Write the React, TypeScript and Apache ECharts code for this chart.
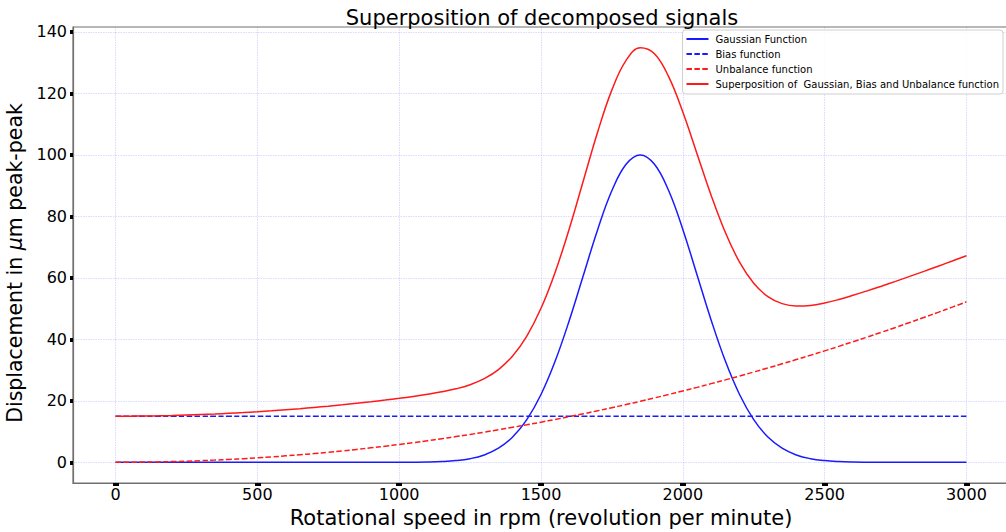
import React, { useEffect, useRef } from "react";
import * as echarts from "echarts";

// rpm sample positions
const rpm = [
  0, 50, 100, 150, 200, 250, 300, 350, 400, 450, 500, 550, 600, 650, 700, 750, 800, 850, 900, 950,
  1000, 1050, 1100, 1150, 1200, 1250, 1300, 1350, 1400, 1450, 1500, 1550, 1600, 1650, 1700, 1750,
  1800, 1850, 1900, 1950, 2000, 2050, 2100, 2150, 2200, 2250, 2300, 2350, 2400, 2450, 2500, 2550,
  2600, 2650, 2700, 2750, 2800, 2850, 2900, 2950, 3000,
];

// Gaussian function (µm)
const gaussian = [
  0, 0, 0, 0, 0, 0, 0, 0, 0, 0, 0, 0, 0, 0, 0, 0, 0, 0, 0, 0,
  0.01, 0.04, 0.1, 0.24, 0.54, 1.17, 2.39, 4.57, 8.21, 13.87, 22.04, 32.92, 46.23, 61.03, 75.75, 88.39,
  96.96, 100, 96.96, 88.39, 75.75, 61.03, 46.23, 32.92, 22.04, 13.87, 8.21, 4.57, 2.39, 1.17, 0.54, 0.24,
  0.1, 0.04, 0.01, 0, 0, 0, 0, 0, 0,
];

// Bias function (µm)
const bias = [
  15, 15, 15, 15, 15, 15, 15, 15, 15, 15, 15, 15, 15, 15, 15, 15, 15, 15, 15, 15,
  15, 15, 15, 15, 15, 15, 15, 15, 15, 15, 15, 15, 15, 15, 15, 15,
  15, 15, 15, 15, 15, 15, 15, 15, 15, 15, 15, 15, 15, 15, 15, 15,
  15, 15, 15, 15, 15, 15, 15, 15, 15,
];

// Unbalance function (µm)
const unbalance = [
  0, 0.01, 0.06, 0.13, 0.23, 0.36, 0.52, 0.71, 0.93, 1.17, 1.45, 1.75, 2.09, 2.45, 2.84, 3.26, 3.71, 4.19, 4.7, 5.23,
  5.8, 6.39, 7.02, 7.67, 8.35, 9.06, 9.8, 10.57, 11.37, 12.19, 13.05, 13.93, 14.85, 15.79, 16.76, 17.76,
  18.79, 19.85, 20.94, 22.05, 23.2, 24.37, 25.58, 26.81, 28.07, 29.36, 30.68, 32.03, 33.41, 34.81, 36.25, 37.71,
  39.21, 40.73, 42.28, 43.86, 45.47, 47.11, 48.78, 50.47, 52.2,
];

// Superposition of Gaussian, Bias and Unbalance (µm)
const superposition = [
  15, 15.01, 15.06, 15.13, 15.23, 15.36, 15.52, 15.71, 15.93, 16.17, 16.45, 16.75, 17.09, 17.45, 17.84, 18.26, 18.71, 19.19, 19.7, 20.23,
  20.81, 21.43, 22.12, 22.91, 23.89, 25.23, 27.19, 30.14, 34.58, 41.06, 50.09, 61.85, 76.08, 91.82, 107.51, 121.15,
  130.75, 134.85, 132.9, 125.44, 113.95, 100.4, 86.81, 74.73, 65.11, 58.23, 53.89, 51.6, 50.8, 50.98, 51.79, 52.95,
  54.31, 55.77, 57.29, 58.86, 60.47, 62.11, 63.78, 65.47, 67.2,
];

const xTicks = [0, 500, 1000, 1500, 2000, 2500, 3000];
const yTicks = [0, 20, 40, 60, 80, 100, 120, 140];

const seriesNames = [
  "Gaussian Function",
  "Bias function",
  "Unbalance function",
  "Superposition of  Gaussian, Bias and Unbalance function",
];

const FONT = "DejaVu Sans";

export default function App() {
  const ref = useRef<HTMLDivElement>(null);

  useEffect(() => {
    if (!ref.current) return;
    const chart = echarts.init(ref.current, null, { renderer: "svg" });
    const pair = (ys: number[]) => rpm.map((x, i) => [x, ys[i]]);
    const mk = (name: string, ys: number[], color: string, dashed: boolean, z: number) => ({
      name,
      type: "line",
      data: pair(ys),
      symbol: "none",
      smooth: 0.4,
      z,
      lineStyle: { color, width: 1.5, type: dashed ? [5.5, 2.4] : "solid" },
      itemStyle: { color },
    });
    const gridLine = {
      show: true,
      lineStyle: { color: "rgba(110,110,255,0.25)", width: 1, type: [1.5, 1] },
    };
    chart.setOption({
      animation: false,
      backgroundColor: "#ffffff",
      title: {
        text: "Superposition of decomposed signals",
        left: 537,
        top: 2,
        textAlign: "center",
        textStyle: { fontFamily: FONT, fontSize: 21, fontWeight: "normal", color: "#000" },
      },
      legend: {
        right: 3,
        top: 30,
        orient: "vertical",
        itemGap: 5,
        itemWidth: 22,
        itemHeight: 10,
        padding: [4, 4, 5, 3],
        backgroundColor: "rgba(255,255,255,0.85)",
        borderColor: "#d0d0d0",
        borderWidth: 1,
        borderRadius: 3,
        itemStyle: { opacity: 0 },
        textStyle: { fontFamily: FONT, fontSize: 10, color: "#000", padding: [0, 0, 0, 2] },
        data: seriesNames,
      },
      grid: {
        left: 73,
        right: -3,
        top: 27,
        bottom: 49,
        outerBoundsMode: "none",
        containLabel: false,
        show: true,
        borderColor: "#707070",
        borderWidth: 1.2,
        backgroundColor: "transparent",
      },
      xAxis: {
        type: "value",
        min: -150,
        max: 3150,
        name: "Rotational speed in rpm (revolution per minute)",
        nameLocation: "middle",
        nameGap: 24,
        nameTextStyle: { fontFamily: FONT, fontSize: 21, color: "#000" },
        axisLine: { show: true, onZero: false, lineStyle: { color: "#707070", width: 1.2 } },
        axisTick: { show: true, length: 3, customValues: xTicks, lineStyle: { color: "#000", width: 6 } },
        axisLabel: {
          customValues: xTicks,
          formatter: (v: number) => String(v),
          fontFamily: FONT,
          fontSize: 16,
          color: "#000",
          margin: 3,
        },
        splitLine: gridLine,
      },
      yAxis: {
        type: "value",
        min: -6.74,
        max: 141.6,
        name: "{a|Displacement in }{b|μ}{a|m peak-peak}",
        nameLocation: "middle",
        nameGap: 40,
        nameRotate: 90,
        nameTextStyle: {
          padding: [0, 16, 0, 0],
          rich: {
            a: { fontFamily: FONT, fontSize: 20.5, color: "#000" },
            b: { fontFamily: FONT, fontSize: 20.5, color: "#000", fontStyle: "italic" },
          },
        },
        axisLine: { show: true, onZero: false, lineStyle: { color: "#707070", width: 1.2 } },
        axisTick: { show: true, length: 3, customValues: yTicks, lineStyle: { color: "#000", width: 4 } },
        axisLabel: {
          customValues: yTicks,
          formatter: (v: number) => String(v),
          fontFamily: FONT,
          fontSize: 16,
          color: "#000",
          margin: 6,
        },
        splitLine: gridLine,
      },
      series: [
        mk(seriesNames[0], gaussian, "#1a1aff", false, 2),
        mk(seriesNames[1], bias, "#1a1aff", true, 3),
        mk(seriesNames[2], unbalance, "#ff1a1a", true, 4),
        mk(seriesNames[3], superposition, "#ff1a1a", false, 5),
      ],
    });
    return () => chart.dispose();
  }, []);

  return (
    <div
      ref={ref}
      style={{ position: "fixed", left: 0, top: 0, width: 1006, height: 532, background: "#fff" }}
    />
  );
}
